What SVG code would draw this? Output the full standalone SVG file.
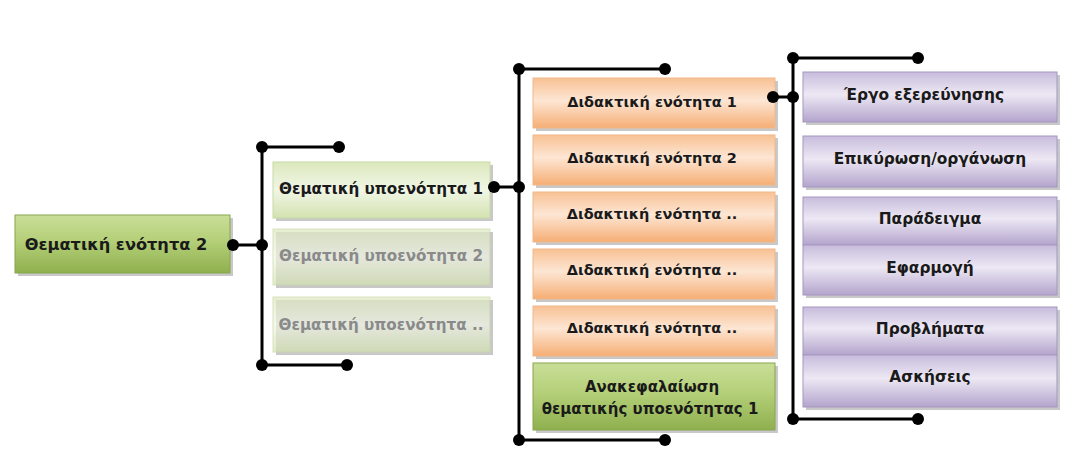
<svg xmlns="http://www.w3.org/2000/svg" width="1083" height="466" viewBox="0 0 1083 466">
<defs>
<linearGradient id="gGreen" x1="0" y1="0" x2="0" y2="1">
<stop offset="0" stop-color="#c9de98"/><stop offset="0.45" stop-color="#b4cf78"/><stop offset="1" stop-color="#8fb04e"/>
</linearGradient>
<linearGradient id="gLight" x1="0" y1="0" x2="0" y2="1">
<stop offset="0" stop-color="#dce8bd"/><stop offset="0.5" stop-color="#f1f6e6"/><stop offset="1" stop-color="#d3e2b0"/>
</linearGradient>
<linearGradient id="gOrange" x1="0" y1="0" x2="0" y2="1">
<stop offset="0" stop-color="#f8c193"/><stop offset="0.45" stop-color="#fde6d4"/><stop offset="1" stop-color="#f6ae74"/>
</linearGradient>
<linearGradient id="gPurple" x1="0" y1="0" x2="0" y2="1">
<stop offset="0" stop-color="#c7bcdc"/><stop offset="0.45" stop-color="#ede8f4"/><stop offset="1" stop-color="#b3a4cc"/>
</linearGradient>
<style>
.sh{fill:#9a9a9a;opacity:0.55}
.green{fill:url(#gGreen);stroke:#86a64a;stroke-width:1}
.light{fill:url(#gLight);stroke:#c9d9a6;stroke-width:1}
.orange{fill:url(#gOrange);stroke:#f0b88a;stroke-width:1}
.purple{fill:url(#gPurple);stroke:#a597c0;stroke-width:1}
text{font-family:"DejaVu Sans","Liberation Sans",sans-serif;font-weight:bold;font-size:14.5px;text-anchor:middle;dominant-baseline:central;fill:#1a1a1a}
.sub{font-size:15.2px}
.pur{font-size:15.4px}
.gray{fill:#8a8a8a}
.ln{stroke:#000;stroke-width:3;fill:none}
.dot{fill:#000}
</style>
</defs>
<rect width="1083" height="466" fill="#ffffff"/>

<g id="n-them2">
<rect class="sh" x="18" y="218" width="215" height="58"/>
<rect class="green" x="15" y="215" width="215" height="58"/>
<text x="116" y="244" style="font-size:16.2px">Θεματική ενότητα 2</text>
</g>

<g id="n-sub1">
<rect class="sh" x="276" y="165" width="217" height="56"/>
<rect class="light" x="273" y="162" width="217" height="56"/>
<text class="sub" x="381" y="189">Θεματική υποενότητα 1</text>
</g>
<g id="n-sub2">
<rect class="sh" x="276" y="232" width="217" height="56" opacity="0.3"/>
<rect class="light" x="273" y="229" width="217" height="56" opacity="0.7"/>
<text class="sub gray" x="381" y="256">Θεματική υποενότητα 2</text>
</g>
<g id="n-sub3">
<rect class="sh" x="276" y="300" width="217" height="55" opacity="0.3"/>
<rect class="light" x="273" y="297" width="217" height="55" opacity="0.7"/>
<text class="sub gray" x="381" y="325">Θεματική υποενότητα ..</text>
</g>

<g id="n-did1">
<rect class="sh" x="536" y="81" width="242" height="50"/>
<rect class="orange" x="533" y="78" width="242" height="50"/>
<text x="652" y="102">Διδακτική ενότητα 1</text>
</g>
<g id="n-did2">
<rect class="sh" x="536" y="138" width="242" height="50"/>
<rect class="orange" x="533" y="135" width="242" height="50"/>
<text x="652" y="158">Διδακτική ενότητα 2</text>
</g>
<g id="n-did3">
<rect class="sh" x="536" y="195" width="242" height="50"/>
<rect class="orange" x="533" y="192" width="242" height="50"/>
<text x="652" y="214">Διδακτική ενότητα ..</text>
</g>
<g id="n-did4">
<rect class="sh" x="536" y="252" width="242" height="50"/>
<rect class="orange" x="533" y="249" width="242" height="50"/>
<text x="652" y="270">Διδακτική ενότητα ..</text>
</g>
<g id="n-did5">
<rect class="sh" x="536" y="309" width="242" height="50"/>
<rect class="orange" x="533" y="306" width="242" height="50"/>
<text x="652" y="328">Διδακτική ενότητα ..</text>
</g>
<g id="n-recap">
<rect class="sh" x="536" y="366" width="242" height="67"/>
<rect class="green" x="533" y="363" width="242" height="67"/>
<text x="652" y="387" style="font-size:15px">Ανακεφαλαίωση</text>
<text x="650" y="409" style="font-size:15px">θεματικής υποενότητας 1</text>
</g>

<g id="n-ergo">
<rect class="sh" x="806" y="75" width="254" height="50"/>
<rect class="purple" x="803" y="72" width="254" height="50"/>
<text class="pur" x="924" y="95">Έργο εξερεύνησης</text>
</g>
<g id="n-epik">
<rect class="sh" x="806" y="139" width="254" height="51"/>
<rect class="purple" x="803" y="136" width="254" height="51"/>
<text class="pur" x="930" y="159">Επικύρωση/οργάνωση</text>
</g>
<g id="n-parad">
<rect class="sh" x="806" y="200" width="254" height="98"/>
<rect class="purple" x="803" y="197" width="254" height="48"/>
<rect class="purple" x="803" y="245" width="254" height="50"/>
<text class="pur" x="930" y="219">Παράδειγμα</text>
<text class="pur" x="930" y="268">Εφαρμογή</text>
</g>
<g id="n-probl">
<rect class="sh" x="806" y="310" width="254" height="100"/>
<rect class="purple" x="803" y="307" width="254" height="48"/>
<rect class="purple" x="803" y="355" width="254" height="52"/>
<text class="pur" x="930" y="329">Προβλήματα</text>
<text class="pur" x="930" y="377">Ασκήσεις</text>
</g>

<g id="connectors">
<path class="ln" d="M233 245H262M262 147V365M262 147H339M262 365H347"/>
<circle class="dot" cx="233" cy="245" r="6"/>
<circle class="dot" cx="262" cy="245" r="6"/>
<circle class="dot" cx="262" cy="147" r="6"/>
<circle class="dot" cx="339" cy="147" r="6"/>
<circle class="dot" cx="262" cy="365" r="6"/>
<circle class="dot" cx="347" cy="365" r="6"/>

<path class="ln" d="M494 187H519M519 69V440M519 69H665M519 440H665"/>
<circle class="dot" cx="494" cy="187" r="6"/>
<circle class="dot" cx="519" cy="187" r="6"/>
<circle class="dot" cx="519" cy="69" r="6"/>
<circle class="dot" cx="665" cy="69" r="6"/>
<circle class="dot" cx="519" cy="440" r="6"/>
<circle class="dot" cx="665" cy="440" r="6"/>

<path class="ln" d="M773 97H793M793 58V419M793 58H918M793 419H918"/>
<circle class="dot" cx="773" cy="97" r="6"/>
<circle class="dot" cx="793" cy="97" r="6"/>
<circle class="dot" cx="793" cy="58" r="6"/>
<circle class="dot" cx="918" cy="58" r="6"/>
<circle class="dot" cx="793" cy="419" r="6"/>
<circle class="dot" cx="918" cy="419" r="6"/>
</g>
</svg>
